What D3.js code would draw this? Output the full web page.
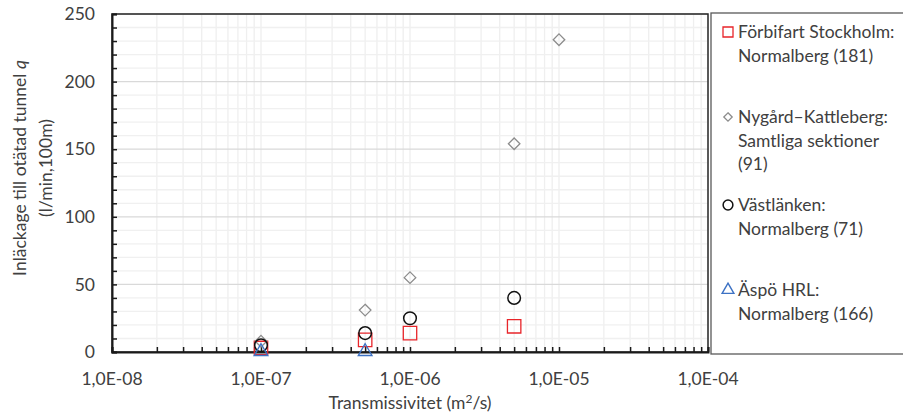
<!DOCTYPE html>
<html>
<head>
<meta charset="utf-8">
<script src="https://cdn.jsdelivr.net/npm/d3@7"></script>
<style>
  html, body { margin: 0; padding: 0; background: #fff; }
  svg { display: block; font-family: Lato, "Liberation Sans", sans-serif; }
</style>
</head>
<body>
<svg id="chart" width="903" height="414"></svg>
<script>
// Transmissivity (m²/s) at which each series was evaluated
const transmissivity = [1e-7, 5e-7, 1e-6, 5e-6, 1e-5];

// Inflow to an ungrouted tunnel q (l/min,100m)
const forbifartStockholm = [3, 9, 14, 19, null];
const nygardKattleberg   = [8, 31, 55, 154, 231];
const vastlanken         = [5, 14, 25, 40, null];
const aspoHRL            = [0.3, 0.3, null, null, null];

const seriesNames = [
  ["Förbifart Stockholm:", "Normalberg (181)"],
  ["Nygård–Kattleberg:", "Samtliga sektioner", "(91)"],
  ["Västlänken:", "Normalberg (71)"],
  ["Äspö HRL:", "Normalberg (166)"]
];

const xTickLabels = ["1,0E-08", "1,0E-07", "1,0E-06", "1,0E-05", "1,0E-04"];
const yTicks = [0, 50, 100, 150, 200, 250];

const FONT = 17.5;
const TEXT = "#404040";

const svg = d3.select("#chart");
const plot = { left: 112, top: 14, right: 708, bottom: 352 };

const x = d3.scaleLog().domain([1e-8, 1e-4]).range([plot.left, plot.right]);
const y = d3.scaleLinear().domain([0, 250]).range([plot.bottom, plot.top]);

// minor positions on the log axis: 1..9 × each decade
const xMinor = [];
for (let e = -8; e < -4; e++) for (let m = 1; m <= 9; m++) xMinor.push(m * Math.pow(10, e));
xMinor.push(1e-4);
const yMinor = d3.range(0, 251, 10);

const grid = svg.append("g");
grid.selectAll(".vx").data(xMinor).join("line")
  .attr("x1", d => x(d)).attr("x2", d => x(d))
  .attr("y1", plot.top).attr("y2", plot.bottom)
  .attr("stroke", "#efefef").attr("stroke-width", 1.3);
grid.selectAll(".hy").data(yMinor.filter(d => d % 50 !== 0)).join("line")
  .attr("x1", plot.left).attr("x2", plot.right)
  .attr("y1", d => y(d)).attr("y2", d => y(d))
  .attr("stroke", "#f0f0f0").attr("stroke-width", 1.3);
grid.selectAll(".hmaj").data(yTicks).join("line")
  .attr("x1", plot.left).attr("x2", plot.right)
  .attr("y1", d => y(d)).attr("y2", d => y(d))
  .attr("stroke", "#d9d9d9").attr("stroke-width", 1.3);

// plot frame
svg.append("rect")
  .attr("x", plot.left).attr("y", plot.top)
  .attr("width", plot.right - plot.left).attr("height", plot.bottom - plot.top)
  .attr("fill", "none").attr("stroke", "#262626").attr("stroke-width", 1.5);

// axes with inward ticks
const yAxis = d3.axisLeft(y).tickValues(yMinor).tickSize(-5).tickFormat("");
svg.append("g").attr("transform", `translate(${plot.left},0)`).call(yAxis)
  .call(g => g.select(".domain").attr("stroke", "#1a1a1a").attr("stroke-width", 2))
  .call(g => g.selectAll(".tick line").attr("stroke", "#1a1a1a").attr("stroke-width", 1.5));

const xAxis = d3.axisBottom(x).tickValues(xMinor).tickSize(-5).tickFormat("");
svg.append("g").attr("transform", `translate(0,${plot.bottom})`).call(xAxis)
  .call(g => g.select(".domain").attr("stroke", "#1a1a1a").attr("stroke-width", 2))
  .call(g => g.selectAll(".tick line").attr("stroke", "#1a1a1a").attr("stroke-width", 1.5));

// tick labels
svg.append("g").selectAll("text").data(yTicks).join("text")
  .attr("x", 95).attr("y", d => y(d)).attr("dy", "0.35em")
  .attr("text-anchor", "end").attr("font-size", FONT).attr("fill", TEXT)
  .text(d => d);

const xMajor = [1e-8, 1e-7, 1e-6, 1e-5, 1e-4];
svg.append("g").selectAll("text").data(xMajor).join("text")
  .attr("x", d => x(d)).attr("y", 385)
  .attr("text-anchor", "middle").attr("font-size", FONT).attr("fill", TEXT)
  .text((d, i) => xTickLabels[i]);

// axis titles
svg.append("text")
  .attr("x", 410).attr("y", 409).attr("text-anchor", "middle")
  .attr("font-size", FONT).attr("fill", TEXT)
  .call(t => {
    t.append("tspan").text("Transmissivitet (m");
    t.append("tspan").attr("font-size", 12).attr("dy", -6).text("2");
    t.append("tspan").attr("dy", 6).text("/s)");
  });

const yTitle = svg.append("g").attr("transform", "translate(0,168) rotate(-90)");
yTitle.append("text").attr("x", 0).attr("y", 26).attr("text-anchor", "middle")
  .attr("font-size", FONT).attr("fill", TEXT)
  .call(t => {
    t.append("tspan").text("Inläckage till otätad tunnel ");
    t.append("tspan").attr("font-style", "italic").text("q");
  });
yTitle.append("text").attr("x", 0).attr("y", 52).attr("text-anchor", "middle")
  .attr("font-size", FONT).attr("fill", TEXT).text("(l/min,100m)");

// marker styles
const styles = [
  { values: forbifartStockholm, symbol: d3.symbolSquare, size: 180, legendSize: 100, color: "#e8252a", width: 1.3 },
  { values: nygardKattleberg, symbol: d3.symbolDiamond2, size: 85, legendSize: 45, color: "#8c8c8c", width: 1.3 },
  { values: vastlanken, symbol: d3.symbolCircle, size: 125, legendSize: 75, color: "#111111", width: 1.5 },
  { values: aspoHRL, symbol: d3.symbolTriangle, size: 80, legendSize: 60, color: "#3d72c4", width: 1.4 }
];

const markers = svg.append("g");
styles.forEach(s => {
  const pts = transmissivity.map((t, i) => ({ t, v: s.values[i] })).filter(d => d.v != null);
  markers.append("g").selectAll("path").data(pts).join("path")
    .attr("transform", d => `translate(${x(d.t)},${y(d.v)})`)
    .attr("d", d3.symbol(s.symbol, s.size))
    .attr("fill", "none").attr("stroke", s.color).attr("stroke-width", s.width);
});

// legend
const legend = svg.append("g");
legend.append("rect")
  .attr("x", 711).attr("y", 13).attr("width", 200).attr("height", 341)
  .attr("fill", "#fff").attr("stroke", "#595959").attr("stroke-width", 1.3);

const legendRows = [32, 117, 205, 290];
const lineGap = 23.5;
styles.forEach((s, i) => {
  legend.append("path")
    .attr("transform", `translate(728,${legendRows[i]})`)
    .attr("d", d3.symbol(s.symbol, s.legendSize))
    .attr("fill", "none").attr("stroke", s.color).attr("stroke-width", s.width);
  seriesNames[i].forEach((line, j) => {
    legend.append("text")
      .attr("x", 738).attr("y", legendRows[i] + j * lineGap).attr("dy", "0.35em")
      .attr("font-size", FONT).attr("fill", TEXT).text(line);
  });
});
</script>
</body>
</html>
